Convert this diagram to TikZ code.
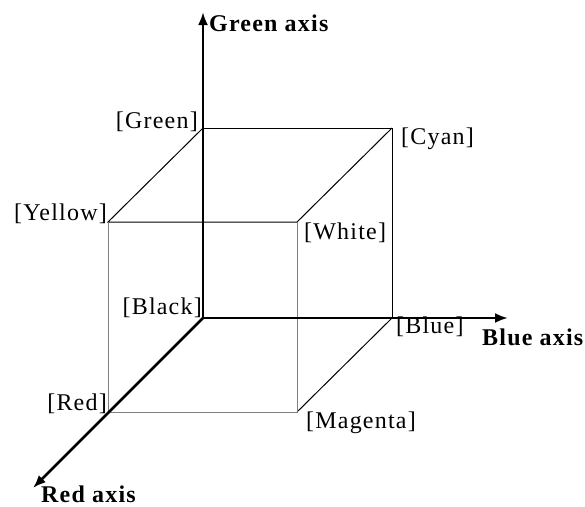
\documentclass[tikz,border=0pt]{standalone}
\usepackage{fontspec}
\setmainfont{Liberation Serif}
\newfontfamily\lblfont[LetterSpace=5]{Liberation Serif}
\usepackage{tikz}
\usetikzlibrary{arrows.meta}

\begin{document}
\begin{tikzpicture}[x=1pt, y=-1pt,
	every node/.style={inner sep=0pt},
	lbl/.style={font=\lblfont\fontsize{24}{26}\selectfont},
	axlbl/.style={font=\lblfont\bfseries\fontsize{24}{26}\selectfont},
	axis/.style={line width=2.6pt, -{Latex[length=13pt, width=10pt]}},
	edge/.style={line width=1pt, black},
	hid/.style={line width=1pt, gray}]
	\useasboundingbox (0,0) rectangle (585,506);
	% corners of the cube
	\coordinate (black) at (203,318);
	\coordinate (green) at (203,128);
	\coordinate (cyan) at (392,128);
	\coordinate (blue) at (392,318);
	\coordinate (red) at (108,412);
	\coordinate (yellow) at (108,222);
	\coordinate (white) at (297,222);
	\coordinate (magenta) at (297,412);
	% axis ends
	\coordinate (gtip) at (203,12);
	\coordinate (btip) at (508,318);
	\coordinate (rtip) at (33,488);
	% edges
	\draw[edge] (green) -- (cyan) -- (blue);
	\draw[edge] (green) -- (yellow) -- (white) -- (cyan);
	\draw[edge] (blue) -- (magenta);
	\draw[hid] (yellow) -- (red) -- (magenta) -- (white);
	% axes
	\draw[axis] (black) -- (gtip);
	\draw[axis] (black) -- (btip);
	\draw[axis] (black) -- (rtip);
	% labels
	\node[lbl, anchor=east] (lgreen) at (198,122) {[Green]};
	\node[lbl, anchor=west] (lcyan) at (401,139) {[Cyan]};
	\node[lbl, anchor=east] (lyellow) at (107,214) {[Yellow]};
	\node[lbl, anchor=west] (lwhite) at (304,233) {[White]};
	\node[lbl, anchor=east] (lblack) at (202,308) {[Black]};
	\node[lbl, anchor=west] (lblue) at (396,327) {[Blue]};
	\node[lbl, anchor=east] (lred) at (107,404) {[Red]};
	\node[lbl, anchor=west] (lmagenta) at (306,423) {[Magenta]};
	\node[axlbl, anchor=west] (gaxis) at (209,23) {Green axis};
	\node[axlbl, anchor=west] (baxis) at (482,337) {Blue axis};
	\node[axlbl, anchor=west] (raxis) at (41,494) {Red axis};
\end{tikzpicture}
\end{document}
